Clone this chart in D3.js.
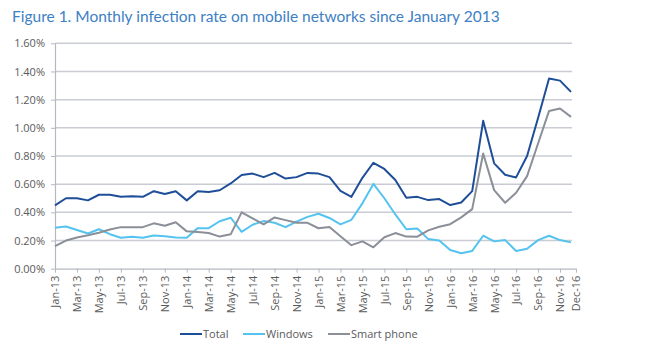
<!DOCTYPE html>
<html lang="en">
<head>
<script src="https://d3js.org/d3.v7.min.js"></script>
<style>
  body { margin: 0; background: #fff; }
  text { font-family: "Open Sans", sans-serif; }
</style>
</head>
<body>
<div id="container"></div>
<script>

    // month labels, Jan-13 .. Dec-16
    const months = [
      "Jan-13","Feb-13","Mar-13","Apr-13","May-13","Jun-13","Jul-13","Aug-13","Sep-13","Oct-13","Nov-13","Dec-13",
      "Jan-14","Feb-14","Mar-14","Apr-14","May-14","Jun-14","Jul-14","Aug-14","Sep-14","Oct-14","Nov-14","Dec-14",
      "Jan-15","Feb-15","Mar-15","Apr-15","May-15","Jun-15","Jul-15","Aug-15","Sep-15","Oct-15","Nov-15","Dec-15",
      "Jan-16","Feb-16","Mar-16","Apr-16","May-16","Jun-16","Jul-16","Aug-16","Sep-16","Oct-16","Nov-16","Dec-16"
    ];

    // infection rates in percent
    const total = [
      0.45, 0.50, 0.50, 0.485, 0.525, 0.525, 0.51, 0.515, 0.51, 0.55, 0.53, 0.55,
      0.485, 0.55, 0.545, 0.557, 0.605, 0.665, 0.675, 0.65, 0.68, 0.64, 0.65, 0.68,
      0.675, 0.65, 0.553, 0.51, 0.645, 0.752, 0.708, 0.63, 0.504, 0.51, 0.487, 0.494,
      0.452, 0.47, 0.551, 1.05, 0.748, 0.667, 0.648, 0.80, 1.07, 1.35, 1.335, 1.255
    ];

    const windows = [
      0.29, 0.30, 0.275, 0.25, 0.28, 0.245, 0.22, 0.227, 0.22, 0.235, 0.23, 0.222,
      0.22, 0.288, 0.288, 0.337, 0.362, 0.262, 0.312, 0.338, 0.326, 0.295, 0.334, 0.368,
      0.39, 0.36, 0.315, 0.347, 0.464, 0.602, 0.50, 0.385, 0.28, 0.286, 0.21, 0.20,
      0.133, 0.11, 0.126, 0.234, 0.194, 0.203, 0.126, 0.142, 0.203, 0.234, 0.203, 0.187
    ];

    const smartphone = [
      0.16, 0.20, 0.222, 0.237, 0.255, 0.278, 0.295, 0.295, 0.295, 0.322, 0.305, 0.33,
      0.265, 0.26, 0.253, 0.228, 0.244, 0.40, 0.357, 0.315, 0.364, 0.345, 0.326, 0.326,
      0.287, 0.296, 0.23, 0.167, 0.194, 0.152, 0.223, 0.253, 0.228, 0.227, 0.272, 0.298,
      0.316, 0.364, 0.423, 0.818, 0.558, 0.468, 0.539, 0.657, 0.889, 1.12, 1.137, 1.078
    ];

    const yTicks = [0, 0.2, 0.4, 0.6, 0.8, 1.0, 1.2, 1.4, 1.6];

    const series = [
      {name: "Total", values: total, colour: "#1f4e99"},
      {name: "Windows", values: windows, colour: "#55c3ef"},
      {name: "Smart phone", values: smartphone, colour: "#8a8f98"}
    ];

    const svg = d3.select("#container")
                  .append("svg")
                  .attr("width", 649)
                  .attr("height", 352);

    // title
    svg.append("text")
        .attr("x", 12)
        .attr("y", 22)
        .attr("fill", "#3d80c4")
        .style("font-family", "Lato, sans-serif")
        .style("font-size", "15.5px")
        .text("Figure 1. Monthly infection rate on mobile networks since January 2013");

    // scales
    const x = d3.scaleLinear().domain([0, 47]).range([55, 571]);
    const y = d3.scaleLinear().domain([0, 1.6]).range([268.7, 43.3]);
    const xEnd = 47.45;
    const xAxisScale = d3.scaleLinear().domain([0, xEnd]).range([55, x(xEnd)]);

    // gridlines
    svg.append("g")
        .selectAll("line")
        .data(yTicks.slice(1))
        .enter()
        .append("line")
        .attr("x1", x(0))
        .attr("x2", x(47) + 1)
        .attr("y1", function(d) { return y(d); })
        .attr("y2", function(d) { return y(d); })
        .attr("stroke", "#c9ccd3")
        .attr("stroke-width", 1.5);

    // y axis
    const yAxis = svg.append("g")
        .attr("transform", "translate(" + x(0) + ",0)")
        .call(d3.axisLeft(y)
                .tickValues(yTicks)
                .tickFormat(function(d) { return d.toFixed(2) + "%"; })
                .tickSize(4)
                .tickSizeOuter(0)
                .tickPadding(6));

    // x axis
    const xTicks = d3.range(0, 47, 2).concat([xEnd]);
    const xAxis = svg.append("g")
        .attr("transform", "translate(0," + y(0) + ")")
        .call(d3.axisBottom(xAxisScale)
                .tickValues(xTicks)
                .tickFormat(function(d) { return d === xEnd ? months[47] : months[d]; })
                .tickSize(4)
                .tickSizeOuter(0)
                .tickPadding(6));

    xAxis.selectAll("text")
        .attr("transform", "rotate(-90)")
        .attr("text-anchor", "end")
        .attr("x", -7)
        .attr("y", 0)
        .attr("dy", "0.35em");

    [yAxis, xAxis].forEach(function(a) {
        a.select(".domain").attr("stroke", "#b4b8c0").attr("stroke-width", 1.2);
        a.selectAll(".tick line").attr("stroke", "#b4b8c0");
        a.selectAll("text")
            .attr("fill", "#5a5a5a")
            .style("font-family", "'Open Sans', sans-serif")
            .style("font-size", "11px");
    });

    // lines
    const line = d3.line()
        .x(function(d, i) { return x(i); })
        .y(function(d) { return y(d); });

    svg.append("g")
        .selectAll("path")
        .data(series)
        .enter()
        .append("path")
        .attr("d", function(d) { return line(d.values); })
        .attr("fill", "none")
        .attr("stroke", function(d) { return d.colour; })
        .attr("stroke-width", 2)
        .attr("stroke-linejoin", "round");

    // legend
    const legendX = [180, 243, 328];
    const legend = svg.append("g")
        .selectAll("g")
        .data(series)
        .enter()
        .append("g")
        .attr("transform", function(d, i) { return "translate(" + legendX[i] + ",334)"; });

    legend.append("line")
        .attr("x1", 0)
        .attr("x2", 22)
        .attr("stroke", function(d) { return d.colour; })
        .attr("stroke-width", 2);

    legend.append("text")
        .attr("x", 23)
        .attr("dy", "0.35em")
        .attr("fill", "#5a5a5a")
        .style("font-size", "11px")
        .text(function(d) { return d.name; });

</script>
</body>
</html>
